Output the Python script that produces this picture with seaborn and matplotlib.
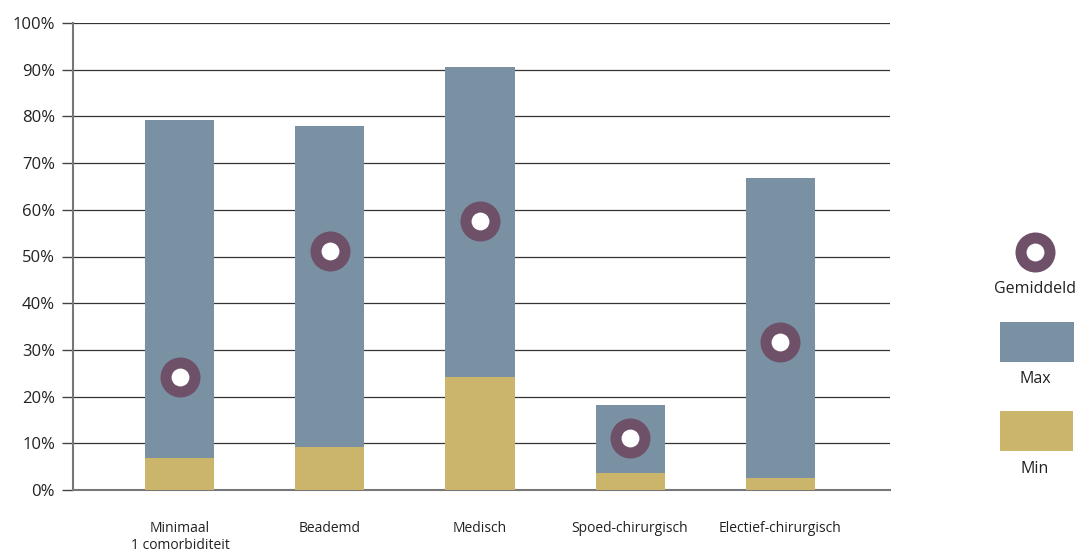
import matplotlib
matplotlib.use("Agg")
import matplotlib.pyplot as plt
import seaborn as sns
import pandas as pd
from matplotlib.patches import Rectangle

categories = ["Minimaal\n1 comorbiditeit", "Beademd", "Medisch", "Spoed-chirurgisch", "Electief-chirurgisch"]
max_vals = [79.3, 78.0, 90.6, 18.2, 66.8]
min_vals = [6.8, 9.2, 24.1, 3.7, 2.6]
mean_vals = [24.2, 51.2, 57.6, 11.2, 31.7]
yticks = [0, 10, 20, 30, 40, 50, 60, 70, 80, 90, 100]
ytick_labels = [f"{v}%" for v in yticks]

C_MAX = "#7a91a3"
C_MIN = "#cbb56a"
C_MEAN = "#6e5068"

sns.set_theme(style="white")
plt.rcParams['font.family'] = ['Open Sans', 'DejaVu Sans']

df = pd.DataFrame({"cat": categories, "max": max_vals, "min": min_vals, "mean": mean_vals})

fig = plt.figure(figsize=(10.8, 5.54), dpi=100)
ax = fig.add_axes([73/1080, 1 - 490/554, (890-73)/1080, (490-23)/554])

sns.barplot(data=df, x="cat", y="max", color=C_MAX, width=0.46, ax=ax, saturation=1,
            zorder=2, linewidth=0, edgecolor="none")
sns.barplot(data=df, x="cat", y="min", color=C_MIN, width=0.46, ax=ax, saturation=1,
            zorder=3, linewidth=0, edgecolor="none")
ax.scatter(range(len(categories)), mean_vals, s=830, color=C_MEAN, zorder=4, linewidths=0)
ax.scatter(range(len(categories)), mean_vals, s=165, color="white", zorder=5, linewidths=0)

ax.set_xlim(-0.713, 4.733)
ax.set_ylim(0, 100)
ax.set_yticks(yticks)
ax.set_yticklabels(ytick_labels, fontsize=12, color="#222222")
ax.set_xlabel("")
ax.set_ylabel("")
ax.tick_params(axis="x", length=0, pad=22, labelsize=10, labelcolor="#222222")
ax.tick_params(axis="y", length=8, width=1, color="#444444", pad=5, direction="out", left=True)
for lab in ax.get_xticklabels():
    lab.set_linespacing(1.2)
    lab.set_verticalalignment("top")
ax.yaxis.grid(True, color="#333333", linewidth=0.9, zorder=0)
ax.set_axisbelow(True)
for s in ["top", "right"]:
    ax.spines[s].set_visible(False)
ax.spines["left"].set_color("#777777")
ax.spines["left"].set_linewidth(1.5)
ax.spines["bottom"].set_color("#777777")
ax.spines["bottom"].set_linewidth(1.5)
ax.spines["left"].set_zorder(6)

# Legend (custom)
lax = fig.add_axes([0, 0, 1, 1], facecolor="none")
lax.set_xlim(0, 1080)
lax.set_ylim(554, 0)
lax.axis("off")
lax.scatter([1035], [252], s=830, color=C_MEAN, linewidths=0)
lax.scatter([1035], [252], s=165, color="white", linewidths=0)
lax.text(1035, 289, "Gemiddeld", ha="center", va="center", fontsize=11.5, color="#222222")
lax.add_patch(Rectangle((1000, 322), 74, 40, color=C_MAX, lw=0))
lax.text(1035, 379, "Max", ha="center", va="center", fontsize=11.5, color="#222222")
lax.add_patch(Rectangle((1000, 411), 73, 40, color=C_MIN, lw=0))
lax.text(1035, 469, "Min", ha="center", va="center", fontsize=11.5, color="#222222")

fig.savefig("out.png", dpi=100)
